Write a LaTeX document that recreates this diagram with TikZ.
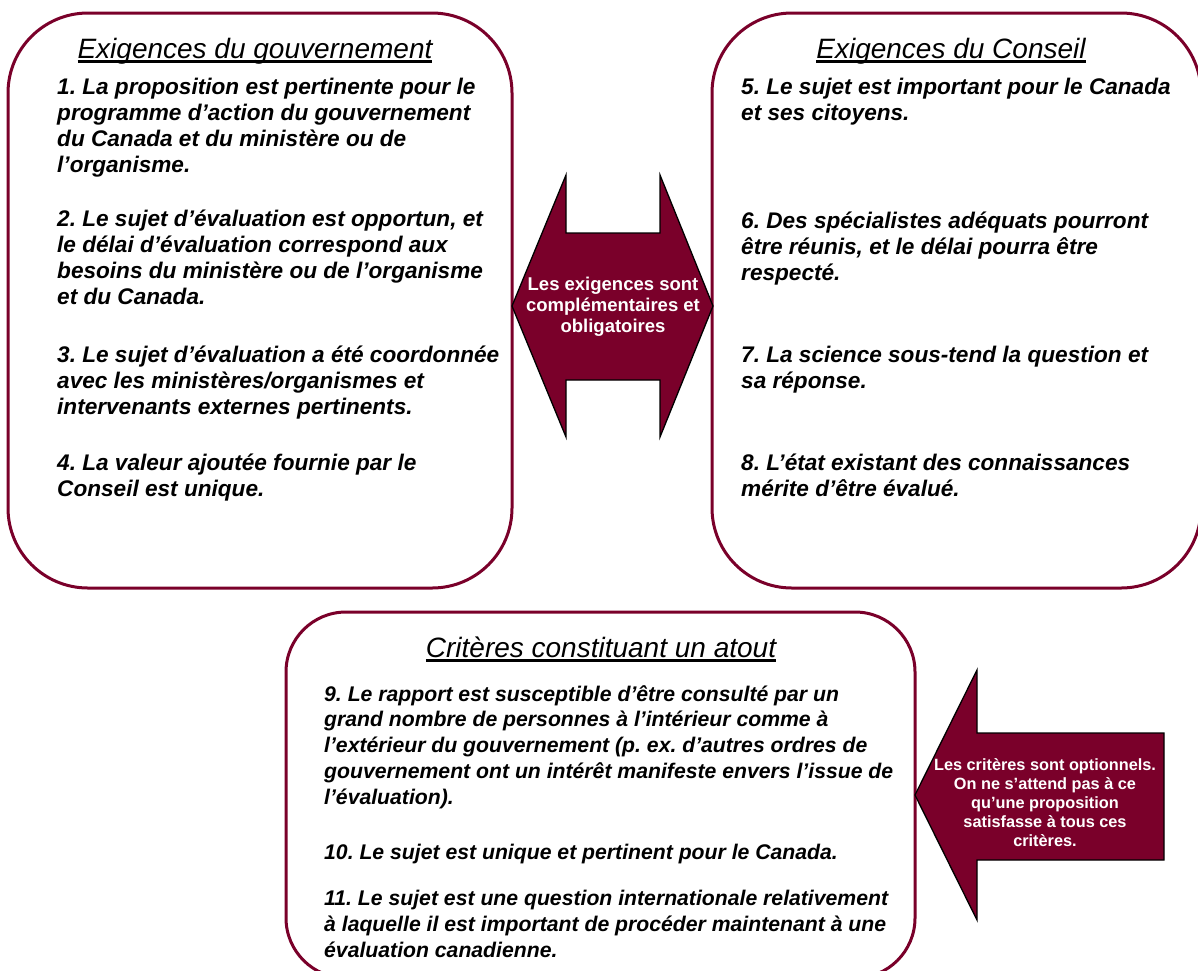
\documentclass[tikz,border=0pt]{standalone}
\usepackage{fontspec}
\setmainfont{Liberation Sans}
\usepackage{tikz}
\frenchspacing
\definecolor{weinrot}{RGB}{122,0,42}
\newcommand{\unterstr}[1]{\setbox0\hbox{#1}\rlap{\rule[-4.7pt]{\wd0}{2.4pt}}\box0}

\begin{document}
\begin{tikzpicture}[x=1pt, y=-1pt, line join=miter,
		kasten/.style={draw=weinrot, line width=3pt},
		pfeil/.style={draw=black, line width=1.3pt, fill=weinrot},
		titel/.style={anchor=base, inner sep=0pt, font=\fontsize{28}{32}\selectfont\itshape},
		punkt/.style={anchor=north west, align=left, inner sep=0pt, yshift=18.2pt, font=\fontsize{22.6}{26}\selectfont\bfseries\itshape, execute at begin node=\strut},
		punktunten/.style={punkt, yshift=-0.2pt, font=\fontsize{21.2}{25.8}\selectfont\bfseries\itshape},
		pfeiltext/.style={align=center, inner sep=0pt, text=white, font=\fontsize{18.5}{21}\selectfont\bfseries}]
			% Hintergrund
			\useasboundingbox (0,0) rectangle (1198,970);
			\fill[white] (0,0) rectangle (1198,970);
			% Kaesten zeichnen
			\draw[kasten, rounded corners=80pt] (8,13) rectangle (512,588);
			\draw[kasten, rounded corners=80pt] (712,13) rectangle (1201,588);
			\draw[kasten, rounded corners=60pt] (286,612) rectangle (915,978);
			% Pfeile zeichnen
			\draw[pfeil] (512,306) -- (566,175) -- (566,233) -- (660,233) -- (660,175) -- (713,306) -- (660,437) -- (660,380) -- (566,380) -- (566,437) -- cycle;
			\draw[pfeil] (915,795) -- (977,670) -- (977,733) -- (1164,733) -- (1164,860) -- (977,860) -- (977,920) -- cycle;
			% Ueberschriften
			\node[titel] (tg) at (255,58) {\unterstr{Exigences du gouvernement}};
			\node[titel] (tc) at (951,58) {\unterstr{Exigences du Conseil}};
			\node[titel] (ta) at (601,657) {\unterstr{Critères constituant un atout}};
			% Exigences du gouvernement
			\node[punkt] (g1) at (57,96) {1. La proposition est pertinente pour le\\programme d’action du gouvernement\\du Canada et du ministère ou de\\l’organisme.};
			\node[punkt] (g2) at (57,228) {2. Le sujet d’évaluation est opportun, et\\le délai d’évaluation correspond aux\\besoins du ministère ou de l’organisme\\et du Canada.};
			\node[punkt] (g3) at (57,364) {3. Le sujet d’évaluation a été coordonnée\\avec les ministères/organismes et\\intervenants externes pertinents.};
			\node[punkt] (g4) at (57,472) {4. La valeur ajoutée fournie par le\\Conseil est unique.};
			% Exigences du Conseil
			\node[punkt] (c5) at (741,96) {5. Le sujet est important pour le Canada\\et ses citoyens.};
			\node[punkt] (c6) at (741,230) {6. Des spécialistes adéquats pourront\\être réunis, et le délai pourra être\\respecté.};
			\node[punkt] (c7) at (741,364) {7. La science sous-tend la question et\\sa réponse.};
			\node[punkt] (c8) at (741,472) {8. L’état existant des connaissances\\mérite d’être évalué.};
			% Criteres
			\node[punktunten] (a9) at (324,703) {9. Le rapport est susceptible d’être consulté par un\\grand nombre de personnes à l’intérieur comme à\\l’extérieur du gouvernement (p. ex. d’autres ordres de\\gouvernement ont un intérêt manifeste envers l’issue de\\l’évaluation).};
			\node[punktunten] (a10) at (324,859) {10. Le sujet est unique et pertinent pour le Canada.};
			\node[punktunten] (a11) at (324,908) {11. Le sujet est une question internationale relativement\\à laquelle il est important de procéder maintenant à une\\évaluation canadienne.};
			% Pfeiltexte
			\node[pfeiltext] (p1) at (613,307) {Les exigences sont\\complémentaires et\\obligatoires};
			\node[pfeiltext, font=\fontsize{16.3}{19}\selectfont\bfseries] (p2) at (1045,803) {Les critères sont optionnels.\\On ne s’attend pas à ce\\qu’une proposition\\satisfasse à tous ces\\critères.};
\end{tikzpicture}
\end{document}
